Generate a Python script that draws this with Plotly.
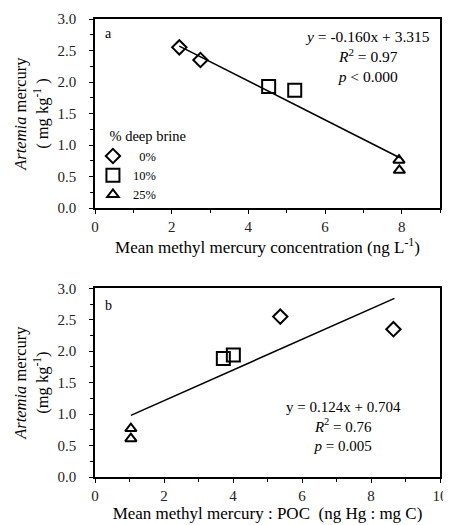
import plotly.graph_objects as go

# ---- Panel a data (x: mean methyl mercury concentration, ng/L) ----
xa_0 = [2.2, 2.75]
ya_0 = [2.55, 2.35]
xa_10 = [4.53, 5.21]
ya_10 = [1.93, 1.87]
xa_25 = [7.93, 7.94]
ya_25 = [0.76, 0.60]
fit_a_x = [2.2, 7.95]
fit_a_y = [2.57, 0.80]

# ---- Panel b data (x: mean methyl mercury : POC) ----
xb_0 = [5.37, 8.65]
yb_0 = [2.55, 2.35]
xb_10 = [3.72, 4.01]
yb_10 = [1.885, 1.94]
xb_25 = [1.04, 1.04]
yb_25 = [0.77, 0.61]
fit_b_x = [1.04, 8.68]
fit_b_y = [0.98, 2.84]

legend_labels = ["\u20070%", "10%", "25%"]
symbols = ["diamond-open", "square-open", "triangle-up-open"]
sizes = [11, 13, 10]

FONT = "Liberation Serif"
fig = go.Figure()

panel_a = [(xa_0, ya_0), (xa_10, ya_10), (xa_25, ya_25)]
panel_b = [(xb_0, yb_0), (xb_10, yb_10), (xb_25, yb_25)]

fig.add_trace(go.Scatter(x=fit_a_x, y=fit_a_y, mode="lines",
                         line=dict(color="black", width=1.6),
                         showlegend=False, xaxis="x", yaxis="y"))
fig.add_trace(go.Scatter(x=fit_b_x, y=fit_b_y, mode="lines",
                         line=dict(color="black", width=1.6),
                         showlegend=False, xaxis="x2", yaxis="y2"))

for (x, y), lab, sym, sz in zip(panel_a, legend_labels, symbols, sizes):
    fig.add_trace(go.Scatter(x=x, y=y, mode="markers", name=lab,
                             marker=dict(symbol=sym, size=sz, color="black",
                                         line=dict(width=2, color="black")),
                             xaxis="x", yaxis="y"))
for (x, y), lab, sym, sz in zip(panel_b, legend_labels, symbols, sizes):
    fig.add_trace(go.Scatter(x=x, y=y, mode="markers", name=lab, showlegend=False,
                             marker=dict(symbol=sym, size=sz, color="black",
                                         line=dict(width=2, color="black")),
                             xaxis="x2", yaxis="y2"))

common_axis = dict(showline=True, linecolor="black", linewidth=1.5, mirror=True,
                   ticks="outside", ticklen=4, tickwidth=1.2, tickcolor="black",
                   showgrid=False, zeroline=False, automargin=False,
                   ticklabeloverflow="allow",
                   tickfont=dict(family=FONT, size=15, color="#222"))

TITLE_SIZE = 17
YTITLE_SIZE = 16.5

# the page body adds an 8px offset, so the figure is sized to fit the window
fig.update_layout(
    width=443, height=517,
    margin=dict(l=87, r=11, t=11, b=48, autoexpand=False),
    paper_bgcolor="white", plot_bgcolor="white",
    font=dict(family=FONT, size=14, color="black"),
    xaxis=dict(common_axis, range=[0, 9], dtick=2, anchor="y",
               minor=dict(dtick=1, ticks="outside", ticklen=3, tickcolor="black"),
               title=dict(text="Mean methyl mercury concentration (ng L<sup>-1</sup>)",
                          font=dict(size=TITLE_SIZE), standoff=4)),
    yaxis=dict(common_axis, range=[0, 3], dtick=0.5, tickformat=".1f",
               domain=[0.587, 1], anchor="x", ticklabelstandoff=10,
               minor=dict(dtick=0.25, ticks="outside", ticklen=3, tickcolor="black"),
               title=dict(text="<i>Artemia</i> mercury<br>( mg kg<sup>-1</sup> )",
                          font=dict(size=YTITLE_SIZE), standoff=5)),
    xaxis2=dict(common_axis, range=[0, 10], dtick=2, anchor="y2",
                minor=dict(dtick=1, ticks="outside", ticklen=3, tickcolor="black"),
                title=dict(text="Mean methyl mercury : POC  (ng Hg : mg C)",
                           font=dict(size=TITLE_SIZE), standoff=4)),
    yaxis2=dict(common_axis, range=[0, 3], dtick=0.5, tickformat=".1f",
                domain=[0, 0.412], anchor="x2", ticklabelstandoff=10,
                minor=dict(dtick=0.25, ticks="outside", ticklen=3, tickcolor="black"),
                title=dict(text="<i>Artemia</i> mercury<br>(mg kg<sup>-1</sup>)",
                           font=dict(size=YTITLE_SIZE), standoff=5)),
    legend=dict(x=-0.006, y=0.774, xref="paper", yref="paper", xanchor="left", yanchor="top",
                bgcolor="rgba(0,0,0,0)", font=dict(family=FONT, size=12.5),
                title=dict(text="\u2002\u2002% deep brine", font=dict(family=FONT, size=14.5)),
                itemwidth=30, tracegroupgap=0),
    showlegend=True,
)

fig.add_annotation(text="a", x=0.023, y=0.925, xref="x domain", yref="y domain",
                   showarrow=False, xanchor="left", yanchor="middle", font=dict(size=14))
fig.add_annotation(text="b", x=0.023, y=0.91, xref="x2 domain", yref="y2 domain",
                   showarrow=False, xanchor="left", yanchor="middle", font=dict(size=14))
fig.add_annotation(text="<i>y</i> = -0.160x + 3.315<br><i>R</i><sup>2</sup> = 0.97<br><i>p</i> &lt; 0.000",
                   x=7.1, y=2.4, xref="x", yref="y", showarrow=False, align="center",
                   xanchor="center", yanchor="middle", font=dict(size=15.5))
fig.add_annotation(text="y = 0.124x + 0.704<br><i>R</i><sup>2</sup> = 0.76<br><i>p</i> = 0.005",
                   x=7.2, y=0.8, xref="x2", yref="y2", showarrow=False, align="center",
                   xanchor="center", yanchor="middle", font=dict(size=15))

fig.write_html("out.html")
